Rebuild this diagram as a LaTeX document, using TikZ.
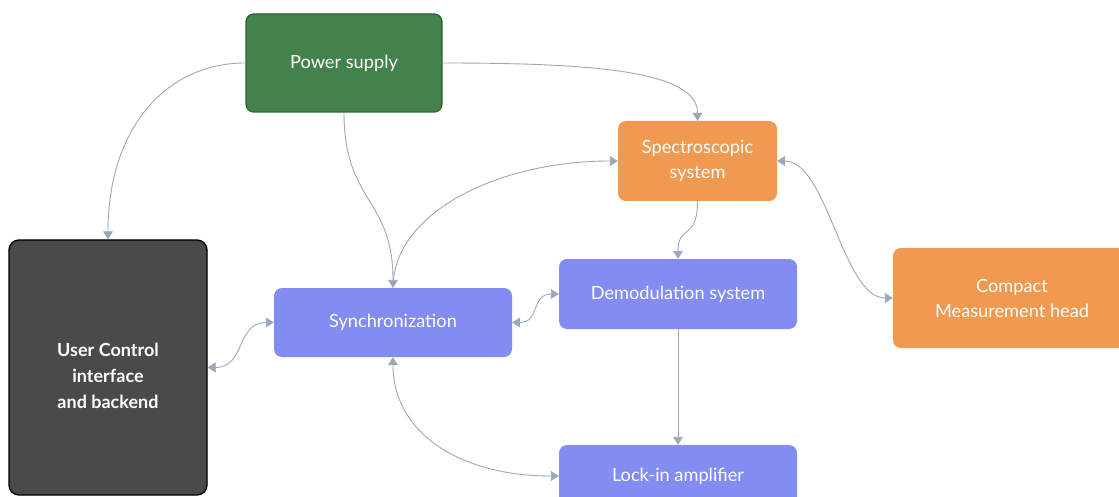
\documentclass[tikz,border=0pt]{standalone}
\usepackage{fontspec}
\setmainfont{Lato}
\usetikzlibrary{arrows.meta}
\definecolor{psgreen}{HTML}{43824A}
\definecolor{psborder}{HTML}{2C6332}
\definecolor{orangebox}{HTML}{EF9A50}
\definecolor{bluebox}{HTML}{838CF0}
\definecolor{darkbox}{HTML}{4A4A4A}
\definecolor{conn}{HTML}{9CA8BA}
\tikzset{
  box/.style={rectangle, rounded corners=8pt, inner sep=0pt, text=white, align=center,
    font=\fontsize{18.2}{25}\selectfont},
  greenbox/.style={box, fill=psgreen, draw=psborder, line width=1.4pt},
  orbox/.style={box, fill=orangebox},
  blbox/.style={box, fill=bluebox},
  dkbox/.style={box, fill=darkbox, draw=black, line width=1.4pt, rounded corners=10pt},
  txt/.style={text=white, align=center, font=\fontsize{18}{26}\selectfont\bfseries},
  link/.style={draw=conn, line width=0.9pt, -{Triangle[width=10pt,length=8pt]}},
  blink/.style={draw=conn, line width=0.9pt, {Triangle[width=10pt,length=8pt]}-{Triangle[width=10pt,length=8pt]}},
}
\begin{document}
\begin{tikzpicture}[x=1pt,y=-1pt]
\useasboundingbox (0,0) rectangle (1119,497);
\clip (0,0) rectangle (1119,497);
\fill[white] (0,0) rectangle (1119,497);

\node[greenbox, minimum width=196pt, minimum height=98pt] (ps) at (344,63) {Power supply};
\node[orbox, minimum width=159pt, minimum height=80pt] (sp) at (697.5,161) {Spectroscopic\\system};
\node[dkbox, minimum width=198pt, minimum height=255pt] (uc) at (108,367.5) {};
\node[txt] (uct) at (108,376) {User Control\\interface\\and backend};
\node[blbox, minimum width=238pt, minimum height=69pt] (sy) at (393,322.5) {Synchronization};
\node[blbox, minimum width=238pt, minimum height=70pt] (dm) at (678,294) {Demodulation system};
\node[orbox, minimum width=238pt, minimum height=100pt] (cm) at (1012,298) {Compact\\Measurement head};
\node[blbox, minimum width=238pt, minimum height=62pt] (li) at (678,476) {Lock-in amplifier};

\draw[link] (ps.west) .. controls +(-80,0) and +(0,-110) .. (uc.north);
\draw[link] (ps.south) .. controls +(0,90) and +(0,-90) .. (sy.north);
\draw[link] (ps.east) .. controls +(150,0) and +(0,-50) .. (sp.north);
\draw[link] (sy.north) .. controls +(0,-75) and +(-120,0) .. (sp.west);
\draw[link] (sp.south) .. controls +(0,40) and +(0,-35) .. (dm.north);
\draw[blink] (sp.east) .. controls +(50,0) and +(-50,0) .. (cm.west);
\draw[blink] (sy.east) .. controls +(28,0) and +(-28,0) .. (dm.west);
\draw[blink] (uc.east) .. controls +(38,0) and +(-38,0) .. (sy.west);
\draw[blink] (sy.south) .. controls +(0,75) and +(-100,0) .. (li.west);
\draw[link] (dm.south) -- (li.north);
\end{tikzpicture}
\end{document}
